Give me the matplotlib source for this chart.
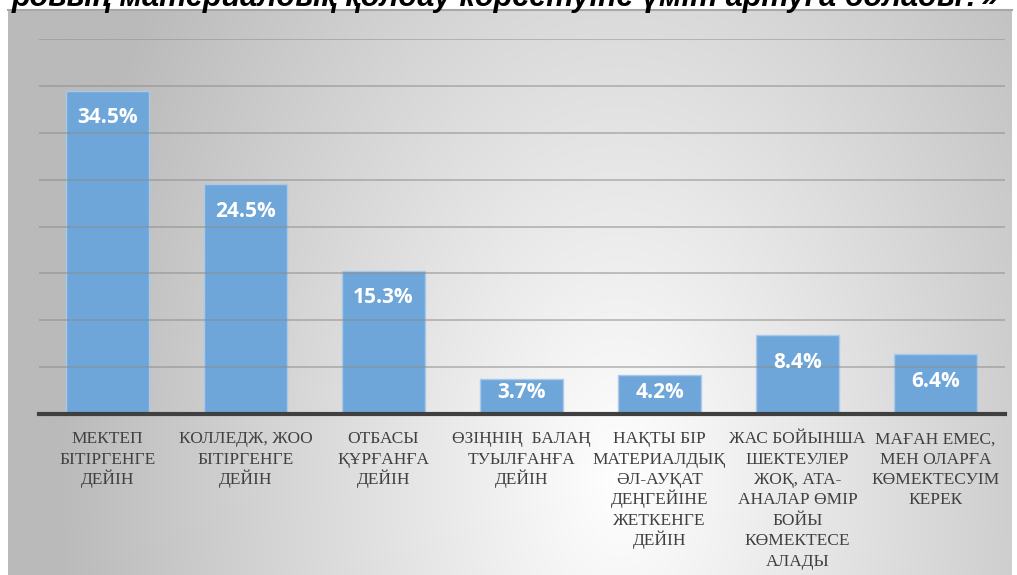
import numpy as np
import matplotlib
matplotlib.use('Agg')
import matplotlib.pyplot as plt
import matplotlib.transforms as mtransforms

# survey answers (percent)
categories = [
    'МЕКТЕП\nБІТІРГЕНГЕ\nДЕЙІН',
    'КОЛЛЕДЖ, ЖОО\nБІТІРГЕНГЕ\nДЕЙІН',
    'ОТБАСЫ\nҚҰРҒАНҒА\nДЕЙІН',
    'ӨЗІҢНІҢ  БАЛАҢ\nТУЫЛҒАНҒА\nДЕЙІН',
    'НАҚТЫ БІР\nМАТЕРИАЛДЫҚ\nӘЛ-АУҚАТ\nДЕҢГЕЙІНЕ\nЖЕТКЕНГЕ\nДЕЙІН',
    'ЖАС БОЙЫНША\nШЕКТЕУЛЕР\nЖОҚ, АТА-\nАНАЛАР ӨМІР\nБОЙЫ\nКӨМЕКТЕСЕ\nАЛАДЫ',
    'МАҒАН ЕМЕС,\nМЕН ОЛАРҒА\nКӨМЕКТЕСУІМ\nКЕРЕК',
]
values = [34.5, 24.5, 15.3, 3.7, 4.2, 8.4, 6.4]
labels = ['34.5%', '24.5%', '15.3%', '3.7%', '4.2%', '8.4%', '6.4%']
title = 'ровың материалдық қолдау көрсетуіне үміт артуға болады?»'

W, H = 1017, 575
fig = plt.figure(figsize=(W / 100, H / 100), dpi=100)
fig.patch.set_facecolor('white')

# gray radial-ish background panel
bg = fig.add_axes([8 / W, 0, 1004 / W, (H - 9.5) / H])
bg.set_axis_off()
nx, ny = 400, 230
xx, yy = np.meshgrid(np.linspace(8, 1012, nx), np.linspace(9.5, 575, ny))
d = np.sqrt(((xx - 620) / 540) ** 2 + ((yy - 480) / 850) ** 2)
g = np.clip(255 - 66 * d, 186, 255) / 255
img = np.dstack([g, g, g])
bg.imshow(img, aspect='auto', extent=[0, 1, 0, 1], origin='upper')
bg.set_xlim(0, 1)
bg.set_ylim(0, 1)
bg.plot([0, 1], [1, 1], color='#a8a8a8', lw=1.5, transform=bg.transAxes, clip_on=False)

ax = fig.add_axes([38.5 / W, (H - 414) / H, 966 / W, (414 - 39) / H])
ax.patch.set_alpha(0)
x = np.arange(len(values))
ax.bar(x, values, width=0.6, color='#6fa6d9', edgecolor='#a9c9ea', linewidth=1.0, zorder=2)

for yv in range(5, 41, 5):
    ax.axhline(yv, color='#8c8c8c', lw=1.3, alpha=0.55, zorder=3)

ax.set_xlim(-0.5, len(values) - 0.5)
ax.set_ylim(0, 40)
ax.set_yticks([])
ax.set_xticks(x)
ax.set_xticklabels([])
ax.tick_params(axis='x', length=0)
for s in ['top', 'right', 'left']:
    ax.spines[s].set_visible(False)
ax.spines['bottom'].set_color('#404040')
ax.spines['bottom'].set_linewidth(3)
ax.spines['bottom'].set_zorder(4)

# category labels, one line at a time so the spacing stays even
trans = mtransforms.blended_transform_factory(ax.transData, ax.transAxes)
for xi, cat in zip(x, categories):
    for i, line in enumerate(cat.split('\n')):
        ax.annotate(line, (xi, 0), xycoords=trans, xytext=(0, -(21 + i * 14.7)),
                    textcoords='offset points', ha='center', va='baseline',
                    fontsize=12.5, color='#404040', annotation_clip=False,
                    family=['Liberation Serif', 'DejaVu Serif'])

for xi, v, lab in zip(x, values, labels):
    yc = max(v - 2.9, 2.3)
    ax.text(xi, yc, lab, ha='center', va='center', color='white',
            fontsize=15, fontweight='bold', family=['Open Sans', 'DejaVu Sans'], zorder=5)

fig.text(0.497, 1 - 6 / H, title, ha='center', va='baseline', fontsize=22,
         fontweight='bold', fontstyle='italic', family=['Liberation Sans', 'DejaVu Sans'])

fig.savefig('out.png', dpi=100)
